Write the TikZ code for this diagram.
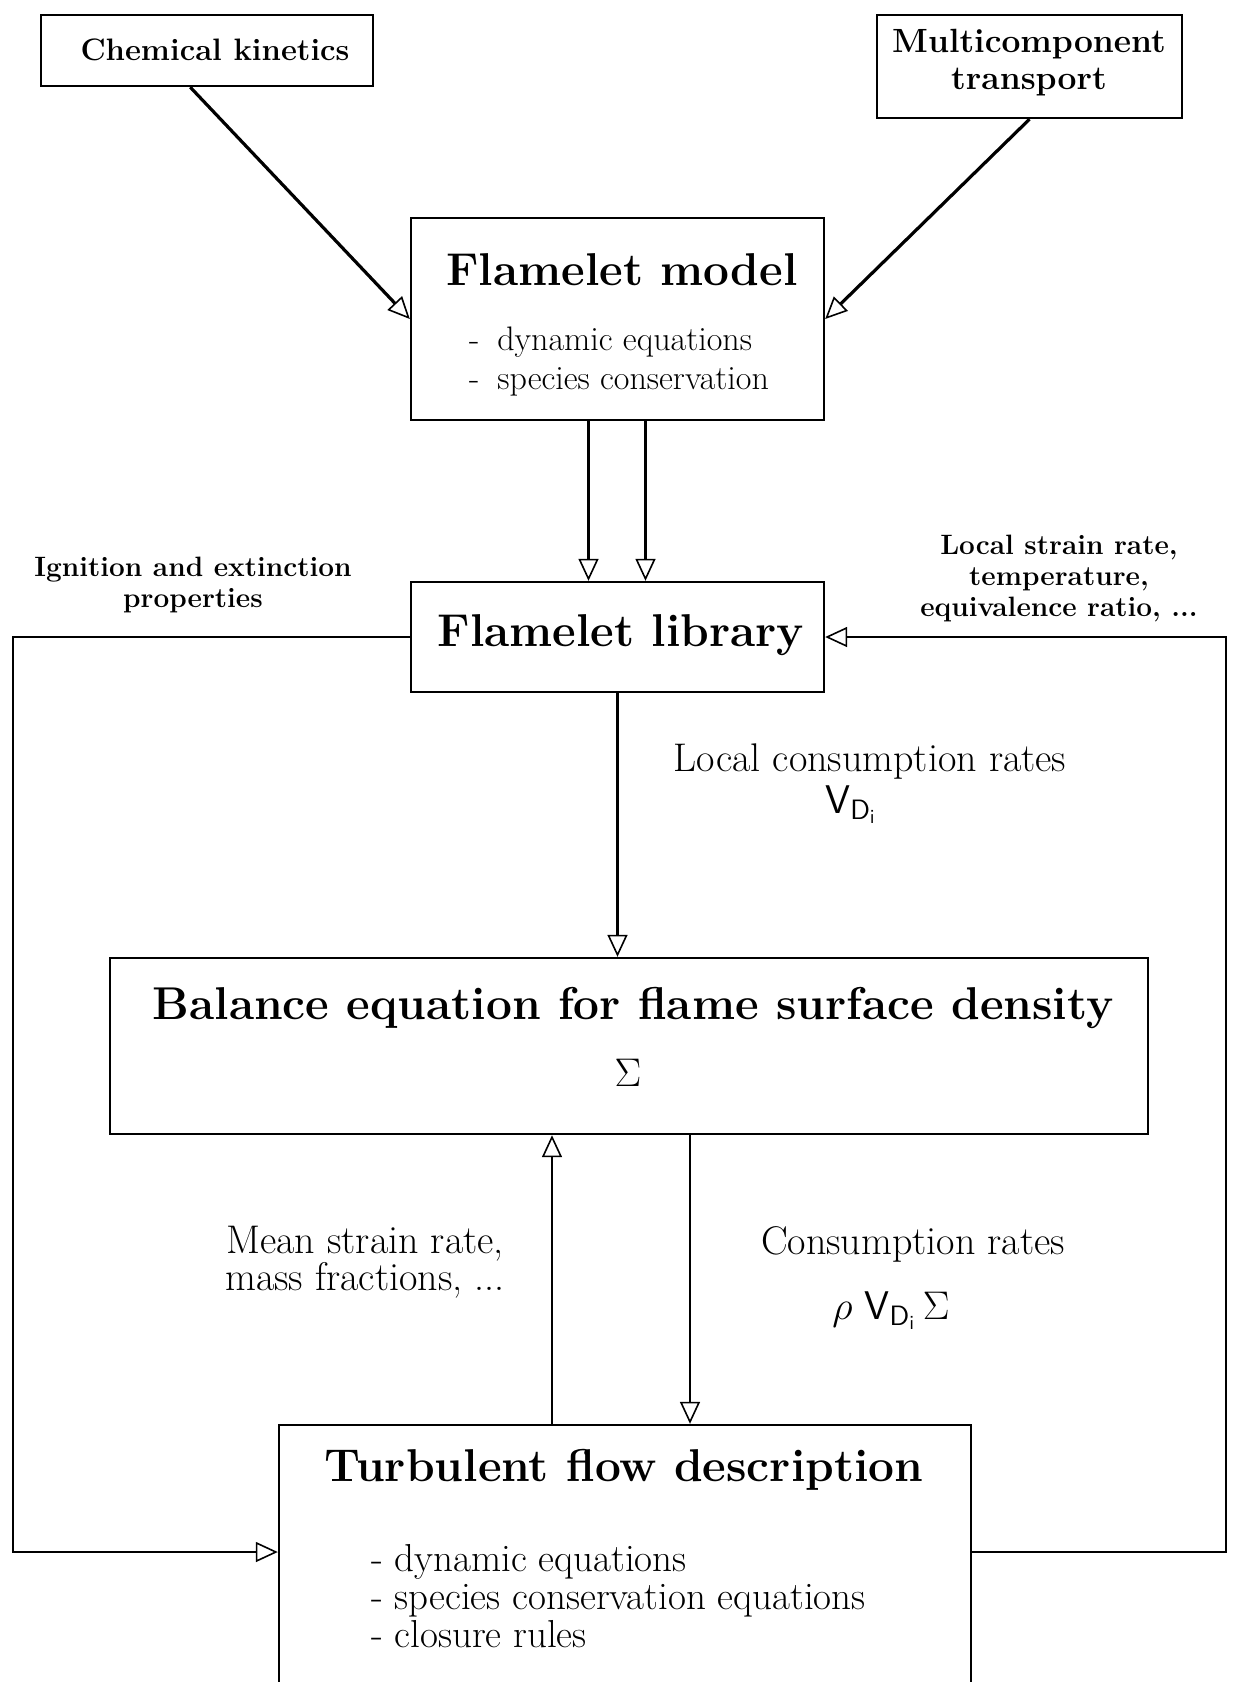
\RequirePackage{fix-cm}
\documentclass[tikz,border=0pt]{standalone}
\usepackage{amsmath}
\usepackage{fontspec}
\usepackage{tikz}
\usetikzlibrary{arrows.meta, positioning, fit, calc}

\begin{document}
\begin{tikzpicture}[x=0.5pt, y=-0.5pt,
        box/.style={draw, line width=1.2pt, inner sep=0pt},
        arr/.style={line width=1.2pt, -{Triangle[open, length=11pt, width=10pt, line width=0.8pt]}},
        ttl/.style={font=\fontsize{23}{27}\selectfont\bfseries},
        txt/.style={align=center, inner sep=1pt, font=\fontsize{20}{18.5}\selectfont},
        note/.style={align=center, inner sep=1pt, font=\fontsize{14}{15.5}\selectfont\bfseries},
        items/.style={anchor=west, align=left}]

        \useasboundingbox (0,0) rectangle (1239,1682);

        \node[box, fit={(41,15) (373,86)}] (chem) {};
        \node[box, fit={(877,15) (1182,118)}] (multi) {};
        \node[box, fit={(411,218) (824,420)}] (model) {};
        \node[box, fit={(411,582) (824,692)}] (lib) {};
        \node[box, fit={(110,958) (1148,1134)}] (bal) {};
        \node[box, fit={(279,1425) (971,1720)}] (turb) {};

        \node[font=\fontsize{15.5}{17}\selectfont\bfseries] (chemtxt) at (215,50) {Chemical kinetics};
        \node[align=center, font=\fontsize{16.8}{18.5}\selectfont\bfseries] (multitxt) at (1029,63) {Multicomponent\\transport};

        \node[ttl] (modeltxt) at (622,270) {Flamelet model};
        \node[items, font=\fontsize{17}{19.5}\selectfont] (modelitems) at (462,362)
            {-\hspace{9pt}dynamic equations\\-\hspace{9pt}species conservation};

        \node[ttl] (libtxt) at (621,635) {Flamelet library};
        \node[ttl] (baltxt) at (633,1008) {Balance equation for flame surface density};
        \node[font=\fontsize{20}{22}\selectfont] (sigma) at (628,1073) {$\Sigma$};
        \node[ttl] (turbtxt) at (624,1470) {Turbulent flow description};
        \node[items, font=\fontsize{19.5}{19}\selectfont] (turbitems) at (364,1596)
            {- dynamic equations\\- species conservation equations\\- closure rules};

        \node[note] (ignit) at (193,585) {Ignition and extinction\\properties};
        \node[note] (strain) at (1059,578) {Local strain rate,\\temperature,\\equivalence ratio, ...};
        \node[txt] (localrate) at (870,762) {Local consumption rates};
        \node[font=\fontsize{20}{22}\selectfont, inner sep=1pt] (vdi) at (851,805) {$\mathsf{V}_{\mathsf{D}_{\mathsf{i}}}$};
        \node[txt] (mean) at (365,1262) {Mean strain rate,\\mass fractions, ...};
        \node[txt] (consrate) at (913,1244) {Consumption rates};
        \node[font=\fontsize{20}{22}\selectfont] (rhovs) at (891,1311) {$\rho\ \mathsf{V}_{\mathsf{D}_{\mathsf{i}}}\,\Sigma$};

        \coordinate (lcorner) at (13,1552);
        \coordinate (rcorner) at (1226,1552);

        \draw[arr, line width=1.6pt] ($(chem.south west)!0.45!(chem.south east)$) -- (model.west);
        \draw[arr, line width=1.6pt] (multi.south) -- (model.east);
        \draw[arr] ($(model.south)+(-29,0)$) -- ($(lib.north)+(-29,0)$);
        \draw[arr] ($(model.south)+(28,0)$) -- ($(lib.north)+(28,0)$);
        \draw[arr] (lib.south) -- (lib.south |- bal.north);
        \draw[arr] ([xshift=30.5pt]bal.south) -- ([xshift=30.5pt]bal.south |- turb.north);
        \draw[arr] ([xshift=-38.5pt]bal.south |- turb.north) -- ([xshift=-38.5pt]bal.south);
        \draw[arr] (lib.west) -| (lcorner) -- (lcorner -| turb.west);
        \draw[arr] (rcorner -| turb.east) -- (rcorner) |- (lib.east);
    \end{tikzpicture}
\end{document}
